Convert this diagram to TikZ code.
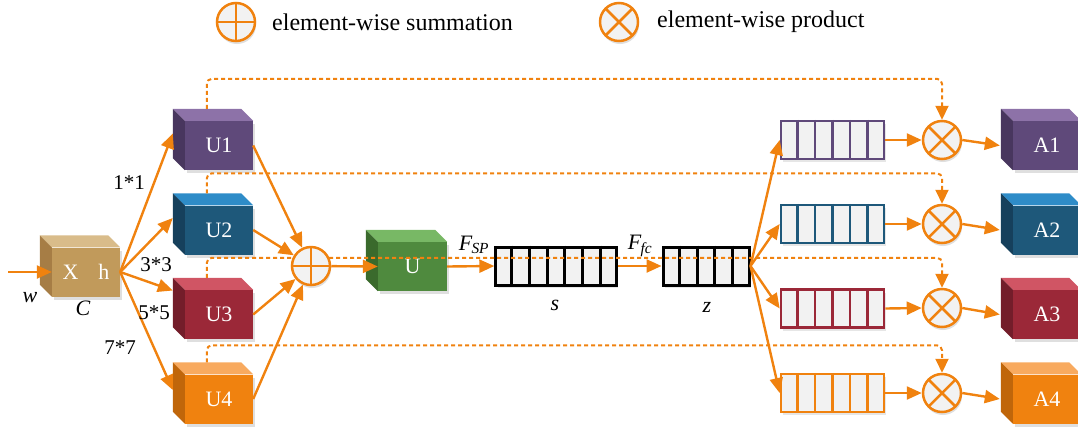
\documentclass[tikz,border=0pt]{standalone}
\usepackage{fontspec}
\setmainfont{Liberation Serif}
\usetikzlibrary{arrows.meta,calc,shadows}
\definecolor{org}{RGB}{240,130,15}
\definecolor{pF}{RGB}{95,73,122}\definecolor{pT}{RGB}{141,114,168}\definecolor{pS}{RGB}{72,54,94}
\definecolor{tF}{RGB}{30,88,122}\definecolor{tT}{RGB}{46,140,200}\definecolor{tS}{RGB}{22,64,92}
\definecolor{rF}{RGB}{155,40,56}\definecolor{rT}{RGB}{208,85,100}\definecolor{rS}{RGB}{115,29,42}
\definecolor{oF}{RGB}{240,130,15}\definecolor{oT}{RGB}{248,170,95}\definecolor{oS}{RGB}{192,102,10}
\definecolor{gF}{RGB}{79,138,62}\definecolor{gT}{RGB}{120,184,101}\definecolor{gS}{RGB}{58,106,44}
\definecolor{cF}{RGB}{193,154,91}\definecolor{cT}{RGB}{217,188,138}\definecolor{cS}{RGB}{166,125,69}
\definecolor{barfill}{RGB}{242,242,242}
\tikzset{
  cubeface/.style={inner sep=0pt, minimum height=49pt, text=white, font=\fontsize{22}{24}\selectfont,
    drop shadow={opacity=0.25,shadow xshift=2pt,shadow yshift=-3pt}},
  arr/.style={draw=org, line width=2.4pt, -{Triangle[length=15pt,width=13pt]}},
  dline/.style={draw=org, line width=2pt, dash pattern=on 4pt off 3pt, rounded corners=5pt,
    -{Triangle[length=14pt,width=13pt]}},
  opnode/.style={circle, draw=org, line width=2.5pt, fill=barfill, inner sep=0pt, minimum size=38pt,
    drop shadow={opacity=0.25,shadow xshift=1pt,shadow yshift=-3pt}},
  sumop/.style={opnode, path picture={\draw[org,line width=2.5pt]
    (path picture bounding box.north) -- (path picture bounding box.south)
    (path picture bounding box.west) -- (path picture bounding box.east);}},
  prodop/.style={opnode, path picture={\draw[org,line width=2.5pt]
    (path picture bounding box.north west) -- (path picture bounding box.south east)
    (path picture bounding box.north east) -- (path picture bounding box.south west);}},
  lbl/.style={font=\fontsize{21}{23}\selectfont, inner sep=0pt},
  ilbl/.style={font=\fontsize{22}{24}\selectfont\itshape, inner sep=0pt},
  legtxt/.style={font=\fontsize{24}{26}\selectfont, anchor=west, inner sep=0pt},
}
\newcommand\mycube[7]{%
  \node[cubeface, fill=#4, minimum width=#3] (#1) at (#2) {#7};
  \fill[#5] (#1.north west) -- (#1.north east) -- ++(-12,-12) -- ($(#1.north west)+(-12,-12)$) -- cycle;
  \fill[#6] (#1.north west) -- ++(-12,-12) -- ($(#1.south west)+(-12,-12)$) -- (#1.south west) -- cycle;
}
\newcommand\cellbar[5]{%
  \node[draw=#4, fill=barfill, line width=#5, inner sep=0pt, minimum width=#3*17.2pt, minimum height=38pt,
    drop shadow={opacity=0.2,shadow xshift=2pt,shadow yshift=-3pt}] (#1) at (#2) {};
  \foreach \i in {1,...,\numexpr#3-1\relax}
    \draw[#4, line width=#5] ($(#1.north west)!\i/#3!(#1.north east)$) -- ($(#1.south west)!\i/#3!(#1.south east)$);
}
\begin{document}
\begin{tikzpicture}[x=1pt,y=-1pt]
\useasboundingbox (0,0) rectangle (1078,429);
% legend
\node[sumop] (legS) at (236,22) {};
\node[legtxt] (legSt) at (272,22) {element-wise summation};
\node[prodop] (legP) at (619,22) {};
\node[legtxt] (legPt) at (657,22) {element-wise product};
% input cube
\mycube{X}{86,272}{68pt}{cF}{cT}{cS}{X\hspace{0.9em}h}
% branch cubes
\mycube{U1}{219,145.5}{68pt}{pF}{pT}{pS}{U1}
\mycube{U2}{219,230}{68pt}{tF}{tT}{tS}{U2}
\mycube{U3}{219,314.5}{68pt}{rF}{rT}{rS}{U3}
\mycube{U4}{219,399}{68pt}{oF}{oT}{oS}{U4}
\mycube{U}{412.5,266.5}{69pt}{gF}{gT}{gS}{U}
% output cubes
\mycube{A1}{1047,145.5}{68pt}{pF}{pT}{pS}{A1}
\mycube{A2}{1047,230}{68pt}{tF}{tT}{tS}{A2}
\mycube{A3}{1047,314.5}{68pt}{rF}{rT}{rS}{A3}
\mycube{A4}{1047,399}{68pt}{oF}{oT}{oS}{A4}
% bars
\cellbar{s}{556,266}{7}{black}{3pt}
\cellbar{z}{706,266}{5}{black}{3pt}
\cellbar{B1}{832.5,140}{6}{pF}{2.5pt}
\cellbar{B2}{832.5,224}{6}{tF}{2.5pt}
\cellbar{B3}{832.5,308.5}{6}{rF}{2.5pt}
\cellbar{B4}{832.5,393}{6}{oF}{2.5pt}
% dashed skip lines
\coordinate (d1) at ($(U1.north west)+(22,-12)$);
\coordinate (d2) at ($(U2.north west)+(22,-12)$);
\coordinate (d3) at ($(U3.north west)+(22,-12)$);
\coordinate (d4) at ($(U4.north west)+(22,-12)$);
\node[prodop] (P1) at (942,140) {};
\node[prodop] (P2) at (942,224) {};
\node[prodop] (P3) at (942,308) {};
\node[prodop] (P4) at (942,393) {};
\draw[dline] (d1) -- ++(0,-30) -| (P1.north);
\draw[dline] (d2) -- ++(0,-20) -| (P2.north);
\draw[dline] (d3) -- ++(0,-20) -| (P3.north);
\draw[dline] (d4) -- ++(0,-17) -| (P4.north);
% sum node
\node[sumop] (sum) at (311,266) {};
% input arrow
\coordinate (in) at (8,272);
\draw[arr] (in) -- (X.west);
\node[ilbl] (w) at (30,298) {w};
\node[ilbl] (C) at (83,308) {C};
% fan out
\coordinate (U1in) at ($(U1.west)+(-12,-12)$);
\coordinate (U2in) at ($(U2.west)+(-12,-12)$);
\coordinate (U3in) at ($(U3.west)+(-12,-24)$);
\coordinate (U4in) at ($(U4.west)+(-12,-9)$);
\draw[arr] (X.east) -- (U1in);
\draw[arr] (X.east) -- (U2in);
\draw[arr] (X.east) -- (U3in);
\draw[arr] (X.east) -- (U4in);
\node[lbl] (k1) at (129,183) {1*1};
\node[lbl] (k3) at (156,265) {3*3};
\node[lbl] (k5) at (154,313) {5*5};
\node[lbl] (k7) at (120,348) {7*7};
% converge
\draw[arr] (U1.east) -- (sum);
\draw[arr] (U2.east) -- (sum);
\draw[arr] (U3.east) -- (sum);
\draw[arr] (U4.east) -- (sum);
\draw[arr] (sum) -- (U.west);
\draw[arr] (U.east) -- (s.west);
\draw[arr] (s.east) -- (z.west);
\node[inner sep=0pt, font=\fontsize{22}{24}\selectfont] (fsp) at (474,245) {\textit{F}\textsubscript{\kern-1pt\textit{SP}}};
\node[inner sep=0pt, font=\fontsize{22}{24}\selectfont] (ffc) at (640,246) {\textit{F}\textsubscript{\kern-1pt\textit{fc}}};
\node[ilbl] (slab) at (555,305) {s};
\node[ilbl] (zlab) at (707,307) {z};
% z to bars
\draw[arr] (z.east) -- (B1.west);
\draw[arr] (z.east) -- (B2.west);
\draw[arr] (z.east) -- (B3.west);
\draw[arr] (z.east) -- (B4.west);
% bars to products to outputs
\foreach \k in {1,2,3,4} {
  \draw[arr] (B\k.east) -- (P\k.west);
  \draw[arr] (P\k.east) -- ($(A\k.west)+(-13,0)$);
}
\end{tikzpicture}
\end{document}
